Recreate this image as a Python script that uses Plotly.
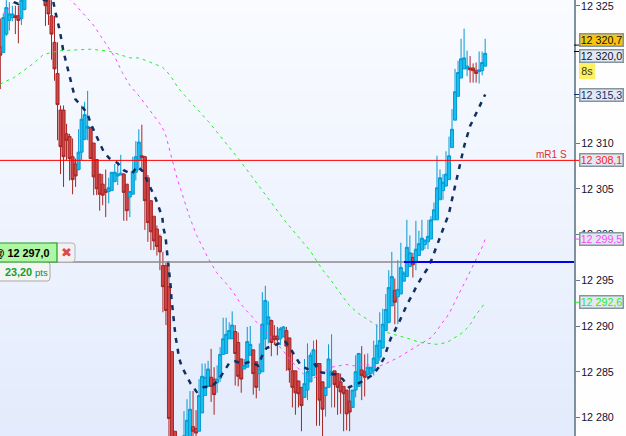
import plotly.graph_objects as go

W, H = 626, 436
AXIS_PX = 574

opens = [12320.5,12319.9,12321.9,12323.4,12323.7,12323.9,12323.9,12323.6,12324.6,
12326.4,12327.3,12328.1,12328.6,12328.0,12327.4,
12326.3,12326.0,12323.9,12321.0,12317.6,12313.6,12313.6,12311.0,12310.7,12308.5,12307.7,
12307.1,12309.0,12310.4,12311.6,
12311.7,12310.0,12308.2,12306.6,12305.5,12304.9,
12304.7,12304.8,12305.8,12306.4,12306.5,
12306.6,12305.5,
12304.1,12304.4,12306.8,12308.1,
12308.6,12308.5,12306.2,12303.7,12302.0,12300.6,12299.8,12296.6,12296.6,12294.3,12287.2,12278.5,
12277.5,12277.4,
12277.0,12277.0,12277.9,
12279.0,12278.8,
12278.5,12280.5,12282.4,12283.4,
12284.4,12284.2,
12283.8,12284.3,12286.9,12287.0,12288.6,12288.6,
12289.4,12288.2,12286.4,
12285.3,12285.5,12286.8,
12287.4,12286.1,
12284.8,12285.0,12288.6,12290.2,
12290.6,12288.9,12288.9,
12288.6,12288.8,
12289.5,12288.7,12285.1,12285.1,12284.0,12283.3,
12282.2,12283.0,12283.9,12284.6,
12285.9,12285.9,12283.9,
12282.4,12283.3,12284.6,
12285.1,12284.8,12283.9,12283.4,12283.0,12281.8,
12281.1,12283.0,12283.4,
12285.2,12285.0,
12284.7,12284.8,12285.1,12285.9,12286.6,12287.6,12289.5,12290.4,12292.2,
12293.9,
12293.2,12293.5,12294.9,12295.4,12296.5,
12297.5,
12297.1,12297.7,12298.3,12298.9,12299.2,12299.5,12301.6,12301.6,12303.8,12304.8,12305.3,12306.0,12309.5,12312.5,12315.1,12317.1,12318.1,12318.1,
12318.2,12318.2,12317.9,
12317.8,12317.9,12318.4]

closes = [12319.6,12323.7,12324.8,12324.1,12324.1,12323.7,12323.4,12325.6,12326.3,
12327.3,12328.1,12328.6,12328.0,12327.4,12326.8,
12325.0,12324.1,12321.9,12318.1,12314.2,12309.6,12308.5,12310.3,12308.3,12306.0,12306.4,
12309.0,12312.6,12313.1,12311.8,
12308.3,12306.3,12305.0,12304.4,12304.3,12304.6,
12305.1,12306.8,12306.8,12306.6,12306.7,
12304.6,12302.6,
12304.7,12306.9,12308.5,12310.1,
12308.4,12303.7,12301.3,12300.3,12299.3,12298.7,12298.1,12294.3,12291.7,12279.9,12277.5,12277.0,
12277.0,12277.0,
12278.0,12279.7,12280.9,
12278.5,12278.3,
12282.4,12284.5,12284.4,12285.3,
12283.4,12282.5,
12284.2,12286.9,12288.6,12289.1,12289.5,12290.1,
12287.0,12284.5,12284.2,
12285.7,12288.3,12288.0,
12284.8,12283.3,
12285.3,12290.2,12292.8,12291.0,
12288.2,12288.5,12288.5,
12289.7,12289.9,
12287.8,12285.2,12283.3,12282.7,12282.6,12281.3,
12283.7,12285.0,12286.8,12287.4,
12285.7,12281.9,12280.9,
12283.3,12286.4,12285.0,
12283.6,12283.3,12282.8,12282.6,12280.4,12280.6,
12283.0,12285.0,12287.0,
12284.6,12284.4,
12285.5,12285.5,12286.5,12287.9,12288.4,12290.2,12291.8,12294.2,12295.4,
12292.6,
12294.0,12296.4,12295.8,12298.6,12298.0,
12296.7,
12298.4,12299.0,12299.6,12299.4,12299.8,12301.6,12302.7,12305.1,12306.2,12305.7,12306.6,12308.6,12311.5,12315.6,12317.7,12319.2,12319.3,12318.4,
12318.0,12317.9,12317.6,
12318.0,12318.8,12319.8]

highs = [12323.6,12324.1,12325.6,12325.4,12325.0,12325.0,12325.0,12326.2,12327.0,
12327.8,12328.6,12329.0,12329.2,12328.5,12327.9,
12327.0,12326.5,12325.6,12323.9,12321.0,12314.1,12314.1,12312.1,12311.0,12310.5,12308.3,
12311.5,12314.1,12314.5,12315.7,
12311.7,12310.0,12308.2,12306.6,12306.6,12307.1,
12306.2,12306.8,12307.7,12307.7,12308.7,
12306.7,12305.5,
12304.7,12308.5,12310.2,12311.5,
12312.0,12308.6,12306.5,12303.7,12302.0,12301.0,12300.0,12298.1,12296.9,12296.6,12287.2,12278.5,
12277.6,12277.5,
12280.7,12282.0,12282.9,
12282.9,12280.8,
12284.2,12285.9,12285.9,12286.2,
12287.5,12285.5,
12285.7,12287.7,12290.9,12290.9,12290.4,12291.6,
12290.1,12289.3,12286.4,
12286.4,12289.9,12290.0,
12287.4,12286.1,
12288.1,12293.7,12294.4,12292.7,
12290.7,12290.1,12289.9,
12289.9,12290.0,
12289.9,12288.7,12287.3,12285.1,12284.0,12283.3,
12286.4,12288.1,12287.1,12288.4,
12288.5,12285.9,12283.9,
12283.3,12288.0,12289.1,
12285.1,12284.8,12284.8,12283.4,12283.0,12283.3,
12283.0,12286.8,12287.0,
12287.8,12286.9,
12287.0,12285.5,12288.4,12290.2,12291.5,12291.9,12293.5,12296.1,12298.1,
12295.2,
12297.2,12299.1,12296.0,12301.6,12299.9,
12298.0,
12301.5,12300.4,12301.6,12299.4,12301.6,12302.0,12303.5,12308.6,12307.1,12306.6,12309.1,12310.7,12313.7,12318.1,12319.0,12321.4,12322.5,12320.1,
12319.5,12318.7,12318.8,
12320.0,12320.0,12321.4]

lows = [12315.9,12319.9,12321.7,12322.3,12323.3,12321.9,12320.9,12322.9,12324.5,
12326.0,12326.9,12327.6,12327.5,12326.9,12326.4,
12322.8,12322.9,12319.1,12316.8,12310.3,12306.6,12305.2,12308.1,12305.9,12304.4,12305.2,
12307.0,12308.1,12310.3,12310.3,
12308.3,12304.3,12304.3,12302.6,12303.2,12301.9,
12303.4,12304.8,12305.7,12305.4,12306.5,
12301.5,12301.5,
12301.9,12304.4,12305.9,12307.0,
12307.0,12300.5,12299.2,12298.3,12298.3,12297.7,12296.1,12291.5,12290.1,12277.5,12276.5,12276.0,
12276.5,12276.5,
12276.5,12276.5,12277.5,
12277.9,12277.9,
12278.5,12280.5,12282.4,12283.4,
12281.7,12280.3,
12282.7,12283.9,12286.9,12287.0,12288.6,12288.6,
12283.5,12283.4,12282.7,
12285.3,12285.5,12286.8,
12282.5,12282.1,
12282.9,12285.0,12287.7,12288.1,
12286.7,12287.9,12286.8,
12287.9,12288.8,
12285.1,12283.8,12281.1,12280.3,12281.1,12278.5,
12282.2,12281.9,12283.9,12284.6,
12279.1,12279.1,12277.5,
12280.1,12283.3,12281.1,
12281.1,12280.3,12280.4,12278.5,12278.6,12278.5,
12281.1,12282.2,12283.4,
12281.9,12282.3,
12284.1,12284.8,12284.6,12285.9,12286.2,12287.5,12289.5,12290.3,12292.2,
12290.2,
12290.2,12293.5,12294.9,12295.4,12296.5,
12295.3,
12296.1,12297.7,12298.3,12298.4,12298.4,12299.5,12301.6,12301.6,12303.8,12303.8,12305.2,12306.0,12309.5,12312.5,12315.1,12317.1,12318.1,12317.3,
12316.6,12316.6,12316.6,
12316.5,12317.4,12318.4]

candle_idx = list(range(len(opens)))

ma_fast_x = [4.5,6,8,17.6,18.2,19,19.8,20.9,21.7,22.6,23.4,24.1,24.9,26.8,28.9,30,31.3,32.7,34.2,36.1,39,41.1,43.6,45.5,47.3,48.8,50.3,51.6,52.7,53.8,54.1,54.9,55.2,55.6,56,56.3,56.6,56.8,57.1,57.4,57.8,58.2,58.8,59.3,60.2,61.7,63.2,65.2,67.4,70.2,72.4,74.3,76,78,80.7,83.2,85.7,86.8,88.4,91.5,94.4,96.2,97.8,99.7,101.9,104.5,106.1,108.7,111.4,113.7,115.8,118.3,121.1,123.9,125.8,127.4,128.5,129.6,132.4,135.1,136.8,138.2,139.9,141.7,143.2,144.4,145.5,146.7,147.9,149,149.7,150.4,151.1,151.7,152.4,153.2,154.1,156,157.6,159,160.6,161]
ma_fast_y = [12325.4,12325.2,12326.0,12325.45,12324.45,12323.35,12322.2,12320.1,12319.05,12318.0,12316.9,12315.85,12314.8,12314.1,12313.25,12312.15,12311.15,12310.2,12309.15,12308.35,12307.8,12307.0,12306.6,12307.45,12306.9,12305.9,12304.9,12303.9,12302.9,12301.9,12300.8,12299.7,12298.6,12297.5,12296.4,12295.35,12294.25,12293.15,12292.05,12290.95,12289.85,12288.8,12287.7,12286.6,12285.6,12284.6,12283.7,12282.8,12283.3,12283.4,12284.1,12285.05,12285.95,12286.15,12285.85,12286.15,12285.65,12286.65,12287.6,12287.95,12288.4,12287.6,12286.7,12285.75,12285.3,12285.8,12284.95,12284.85,12284.7,12284.2,12283.3,12283.65,12284.1,12284.75,12285.55,12286.5,12287.5,12288.6,12290.4,12292.4,12293.4,12294.35,12295.3,12296.2,12297.25,12298.2,12299.25,12300.3,12301.25,12302.3,12303.4,12304.4,12305.5,12306.55,12307.6,12308.7,12309.75,12311.85,12312.9,12313.85,12314.9,12315.3]

ma_mid_x = [0.8,3.2,8,16,23.7,27.6,30.9,32.5,35.1,38.1,40.5,43.1,46.4,49.7,53,54.7,55.8,57.2,58.6,59.7,61,62.8,63.5,65.2,66.9,69.1,71.8,73.5,75.4,77.1,79.9,81.5,83.3,85.1,86.8,89,90.7,94,95.7,99,101,103.4,105.6,107.8,110,112.5,114.7,117.2,120,122.4,124.6,127.5,129.9,132.4,143.1,145,146.4,148.1,149.4,150.7,151.9,153.1,154.2,155.3,156.5,157.8,159,160.2,161]
ma_mid_y = [12324.15,12324.8,12327.0,12327.5,12325.55,12324.15,12322.9,12322.1,12320.8,12319.35,12317.7,12316.25,12315.0,12313.55,12312.1,12311.15,12309.7,12308.05,12306.25,12305.15,12303.7,12301.95,12301.35,12299.9,12298.8,12297.35,12295.85,12295.25,12294.5,12293.8,12292.4,12291.75,12291.15,12290.4,12289.8,12289.1,12288.45,12287.3,12286.5,12285.3,12284.65,12284.2,12284.6,12285.1,12285.5,12285.65,12285.8,12285.65,12285.75,12285.75,12285.5,12285.8,12286.2,12286.6,12288.75,12289.5,12290.2,12290.9,12291.6,12292.4,12293.2,12294.05,12294.75,12295.5,12296.4,12297.2,12298.0,12298.75,12299.5]

ma_slow_x = [0,1,4.3,8.2,11,14.3,17.1,20.4,24.2,29.8,33.1,36.4,39.7,43.1,45.8,48.6,51.4,53.6,55.2,56.9,59.1,61.3,64.6,66.9,69.1,79.6,86.9,94.5,102.8,107.2,109.2,110.9,112.2,113.9,115.5,117.4,119.4,121.6,123.8,126.1,128.3,131,133.3,135.8,139.3,145,148.3,151,153.2,155.1,156.5,157.9,159.5,161]
ma_slow_y = [12316.4,12316.65,12317.1,12318.0,12318.7,12319.65,12319.9,12320.1,12320.15,12320.25,12320.15,12320.0,12319.65,12319.3,12319.3,12319.0,12318.6,12318.35,12317.85,12317.15,12316.0,12315.15,12313.95,12313.15,12312.35,12308.07,12304.8,12301.5,12298.25,12296.05,12295.25,12294.5,12293.8,12293.15,12292.4,12291.8,12291.25,12290.8,12290.3,12289.85,12289.3,12289.05,12288.85,12288.6,12288.2,12288.0,12288.2,12288.8,12289.2,12289.8,12290.4,12291.25,12291.85,12292.6]

axis_ticks = list(range(12280, 12330, 5))
hidden_labels = {12320, 12315, 12325}
axis_labels = ["" if v in hidden_labels else f"{v//1000} {v%1000:03d}" for v in axis_ticks]

price_resistance = 12308.1
price_entry = 12297.0
top_tick = 12325
X_MIN, X_MAX = -0.1, 190.5
Y_MAX = 12325.628
Y_MIN = 12277.98

fig = go.Figure()

fig.add_trace(go.Heatmap(x=[X_MIN, X_MAX], y=[Y_MIN, Y_MAX], z=[[0, 0], [1, 1]],
    colorscale=[[0, "#e3ebfc"], [1, "#f9fbff"]], showscale=False, zsmooth="best", hoverinfo="skip"))

fig.add_trace(go.Candlestick(x=candle_idx, open=opens, high=highs, low=lows, close=closes,
    increasing=dict(line=dict(color="#0699d2", width=1), fillcolor="#14c0f2"),
    decreasing=dict(line=dict(color="#a62626", width=1), fillcolor="#d04545"),
    whiskerwidth=0, showlegend=False))

fig.add_trace(go.Scatter(x=ma_slow_x, y=ma_slow_y, mode="lines",
    line=dict(color="#22ee22", width=1, dash="3px,4px"), showlegend=False))
fig.add_trace(go.Scatter(x=ma_mid_x, y=ma_mid_y, mode="lines",
    line=dict(color="#ff44ff", width=1, dash="3px,4px"), showlegend=False))
fig.add_trace(go.Scatter(x=ma_fast_x, y=ma_fast_y, mode="lines",
    line=dict(color="#0f3060", width=2.5, dash="5px,6px"), showlegend=False))

def px(x):
    return x / W

def py(y):
    return 1 - y / H

shapes = [
    dict(type="line", xref="paper", yref="y", x0=0, x1=px(AXIS_PX), y0=price_resistance, y1=price_resistance,
         line=dict(color="#ff0000", width=1)),
    dict(type="line", xref="paper", yref="y", x0=0, x1=px(404), y0=price_entry, y1=price_entry,
         line=dict(color="#8a8a8a", width=1.4)),
    dict(type="line", xref="paper", yref="y", x0=px(404), x1=px(AXIS_PX), y0=price_entry, y1=price_entry,
         line=dict(color="#0000ee", width=2)),
]

def round_box(x0, y0, x1, y1, fill, stroke, r=3):
    path = (f"M {px(x0)} {py(y0)} L {px(x1-r)} {py(y0)} Q {px(x1)} {py(y0)} {px(x1)} {py(y0+r)} "
            f"L {px(x1)} {py(y1-r)} Q {px(x1)} {py(y1)} {px(x1-r)} {py(y1)} L {px(x0)} {py(y1)} Z")
    return dict(type="path", xref="paper", yref="paper", path=path, fillcolor=fill,
                line=dict(color=stroke, width=1))

shapes += [
    round_box(-3, 262, 50, 281, "#f3f5f2", "#a8a8a8"),
    round_box(50, 243, 75, 262, "#f1f1f3", "#b4b4b4"),
    dict(type="rect", xref="paper", yref="paper", x0=px(-3), x1=px(57), y0=py(243), y1=py(262),
         fillcolor="#aef7a4", line=dict(color="#1f9f1f", width=1.2)),
]

for price, color in [(12320.7, "#000000"), (12320.0, "#000000"), (12315.3, "#12306a"),
                     (12308.1, "#ff0000"), (12299.5, "#ff44ff"), (12292.6, "#22ee22")]:
    shapes.append(dict(type="line", xref="paper", yref="y", x0=px(AXIS_PX), x1=px(579), y0=price, y1=price,
                       line=dict(color=color, width=1)))

FONT = "Liberation Sans, Arial, sans-serif"
TICK_SIZE = 10.7
annotations = []

def label(text, y0, y1, fg, bg, x0=579, x1=624, border="#84959f"):
    annotations.append(dict(xref="paper", yref="paper", x=px(x0), y=py((y0 + y1) / 2), xanchor="left", yanchor="middle",
        text=text, showarrow=False, font=dict(family=FONT, size=TICK_SIZE, color=fg), bgcolor=bg, bordercolor=border,
        borderwidth=1.5, borderpad=0, width=x1 - x0 - 3, height=y1 - y0 - 3, align="center", valign="middle"))

label("12 320,7", 33, 47, "#101010", "#f7c40f")
label("12 320,0", 49, 63, "#101030", "#e2e8f2")
label("8s", 63, 79, "#304020", "#fff060", x1=595, border="#fff060")
label("12 315,3", 88, 102, "#12306a", "#e2e8f2")
label("12 308,1", 153, 167, "#ff2020", "#e2e8f2")
label("12 299,5", 232, 246, "#ff44ff", "#e2e8f2")
label("12 292,6", 295, 309, "#22ee22", "#e2e8f2")

annotations += [
    dict(xref="paper", yref="y", x=px(581), y=top_tick, xanchor="left", yanchor="middle",
         text=f"{top_tick//1000} {top_tick%1000:03d}", showarrow=False, borderpad=0, borderwidth=0,
         font=dict(family=FONT, size=TICK_SIZE, color="#101030")),
    dict(xref="paper", yref="paper", x=px(569), y=py(154), xanchor="right", yanchor="middle", text="mR1 S",
         showarrow=False, font=dict(family=FONT, size=10, color="#e03030")),
    dict(xref="paper", yref="paper", x=px(52), y=py(253), xanchor="right", yanchor="middle", text="<b>@ 12 297,0</b>",
         showarrow=False, font=dict(family=FONT, size=10.8, color="#000000")),
    dict(xref="paper", yref="paper", x=px(66), y=py(252.5), xanchor="center", yanchor="middle", text="\u2716",
         showarrow=False, font=dict(family="DejaVu Sans", size=13, color="#e04848")),
    dict(xref="paper", yref="paper", x=px(3), y=py(272), xanchor="left", yanchor="middle",
         text='<b>23,20</b> <span style="font-size:9.5px;color:#108060">pts</span>',
         showarrow=False, font=dict(family=FONT, size=10.8, color="#0ea030")),
]

fig.update_layout(
    width=W, height=H, autosize=False,
    margin=dict(l=0, r=0, t=0, b=0, pad=0),
    paper_bgcolor="#fefefe", plot_bgcolor="#eef3fe",
    showlegend=False, boxgap=0, boxgroupgap=0, shapes=shapes, annotations=annotations, hovermode=False,
    xaxis=dict(range=[X_MIN, X_MAX], domain=[0, AXIS_PX / W], visible=False, rangeslider=dict(visible=False), fixedrange=True),
    yaxis=dict(range=[Y_MIN, Y_MAX], side="right", tickvals=axis_ticks, ticktext=axis_labels,
               tickfont=dict(family=FONT, size=TICK_SIZE, color="#101030"), ticks="outside", ticklen=4, tickwidth=1,
               ticklabelstandoff=-1, tickcolor="#66798a", showgrid=False, zeroline=False, showline=True,
               linecolor="#7d919f", linewidth=2, fixedrange=True),
)

fig.write_html("out.html", config=dict(displayModeBar=False),
               post_script="document.body.style.margin='0';")
